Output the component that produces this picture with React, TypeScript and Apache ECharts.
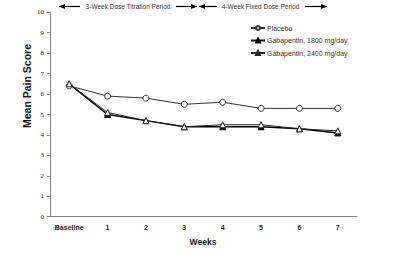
import React, { useEffect, useRef } from "react";
import * as echarts from "echarts";

const categories = ["Baseline", "1", "2", "3", "4", "5", "6", "7"];
const placebo = [6.4, 5.9, 5.8, 5.5, 5.6, 5.3, 5.3, 5.3];
const gaba1800 = [6.5, 5.0, 4.7, 4.4, 4.4, 4.4, 4.3, 4.1];
const gaba2400 = [6.5, 5.1, 4.7, 4.4, 4.5, 4.5, 4.3, 4.2];
const seriesNames = ["Placebo", "Gabapentin, 1800 mg/day", "Gabapentin, 2400 mg/day"];
const periodLabels = ["3-Week Dose Titration Period", "4-Week Fixed Dose Period"];

const SANS = "Liberation Sans, Arial, sans-serif";
const SERIF = "Liberation Serif, Times New Roman, serif";

function arrowLine(x1: number, x2: number, y: number, dir: "left" | "right" | "both") {
  const els: any[] = [
    { type: "line", shape: { x1, y1: y, x2, y2: y }, style: { stroke: "#000", lineWidth: 1.2 } },
  ];
  if (dir === "left" || dir === "both") {
    els.push({ type: "polygon", shape: { points: [[x1, y], [x1 + 6, y - 2.5], [x1 + 6, y + 2.5]] }, style: { fill: "#000" } });
  }
  if (dir === "right" || dir === "both") {
    els.push({ type: "polygon", shape: { points: [[x2, y], [x2 - 6, y - 2.5], [x2 - 6, y + 2.5]] }, style: { fill: "#000" } });
  }
  return els;
}

export default function App() {
  const ref = useRef<HTMLDivElement>(null);
  useEffect(() => {
    if (!ref.current) return;
    const chart = echarts.init(ref.current, null, { renderer: "svg" });
    const y = 6.5;
    chart.setOption({
      animation: false,
      backgroundColor: "#fff",
      grid: { left: 50, right: 43, top: 12.3, bottom: 37.3 },
      legend: {
        orient: "vertical",
        left: 245,
        top: 19.5,
        itemGap: 5.5,
        itemWidth: 14,
        itemHeight: 5,
        textStyle: { fontFamily: SANS, fontSize: 7, color: "#333", padding: [0, 0, 0, -3] },
        data: seriesNames,
      },
      xAxis: {
        type: "category",
        data: categories,
        boundaryGap: true,
        axisLine: { lineStyle: { color: "#888", width: 1 } },
        axisTick: { show: false },
        axisLabel: { fontFamily: SANS, fontSize: 7, fontWeight: "bold", color: "#222", margin: 7 },
      },
      yAxis: {
        type: "value",
        min: 0,
        max: 10,
        interval: 1,
        splitLine: { show: false },
        axisLine: { show: true, lineStyle: { color: "#888", width: 1 } },
        axisTick: { show: true, length: 3, lineStyle: { color: "#888" } },
        axisLabel: { fontFamily: SERIF, fontSize: 7, color: "#222", margin: 6 },
      },
      series: [
        {
          name: seriesNames[0],
          type: "line",
          data: placebo,
          symbol: "circle",
          symbolSize: 6,
          lineStyle: { color: "#333", width: 1 },
          itemStyle: { color: "#fff", borderColor: "#333", borderWidth: 1 },
          z: 3,
        },
        {
          name: seriesNames[1],
          type: "line",
          data: gaba1800,
          symbol: "triangle",
          symbolSize: 6,
          lineStyle: { color: "#000", width: 1.5 },
          itemStyle: { color: "#000", borderColor: "#000", borderWidth: 1 },
          z: 2,
        },
        {
          name: seriesNames[2],
          type: "line",
          data: gaba2400,
          symbol: "triangle",
          symbolSize: 6,
          lineStyle: { color: "#222", width: 1 },
          itemStyle: { color: "#fff", borderColor: "#222", borderWidth: 1 },
          z: 4,
        },
      ],
      graphic: [
        ...arrowLine(59, 80, y, "left"),
        {
          type: "text",
          x: 128,
          y,
          style: { text: periodLabels[0], fontFamily: SANS, fontSize: 6.5, fill: "#333", align: "center", verticalAlign: "middle" },
        },
        ...arrowLine(176, 197, y, "right"),
        ...arrowLine(199, 217, y, "left"),
        {
          type: "text",
          x: 260.5,
          y,
          style: { text: periodLabels[1], fontFamily: SANS, fontSize: 6.5, fill: "#333", align: "center", verticalAlign: "middle" },
        },
        ...arrowLine(305, 327, y, "right"),
        {
          type: "text",
          x: 27,
          y: 86,
          rotation: Math.PI / 2,
          style: { text: "Mean Pain Score", fontFamily: SANS, fontSize: 10.5, fontWeight: "bold", fill: "#111", align: "center", verticalAlign: "middle" },
        },
        {
          type: "text",
          x: 203,
          y: 242,
          style: { text: "Weeks", fontFamily: SANS, fontSize: 8.5, fontWeight: "bold", fill: "#111", align: "center", verticalAlign: "middle" },
        },
      ],
    });
    return () => chart.dispose();
  }, []);
  return <div ref={ref} style={{ width: 400, height: 254, position: "absolute", left: 0, top: 0 }} />;
}
